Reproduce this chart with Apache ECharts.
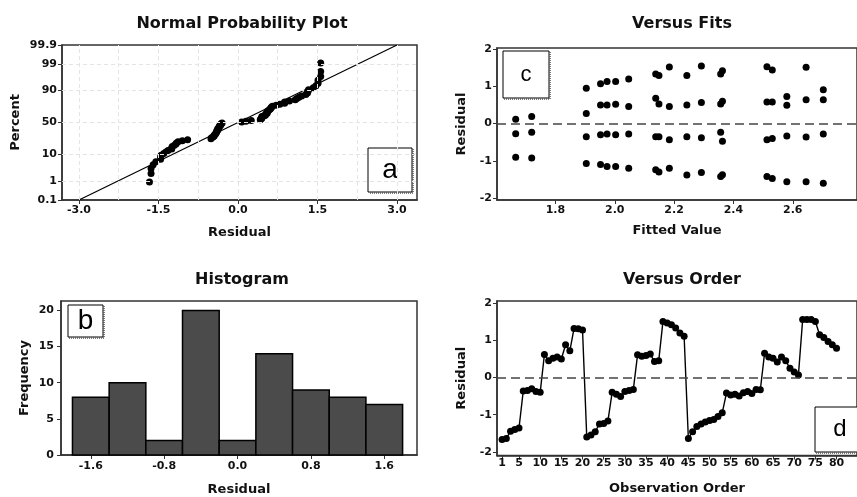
<!DOCTYPE html>
<html>
<head>
<meta charset="utf-8">
<script src="https://cdn.jsdelivr.net/npm/echarts@6/dist/echarts.min.js"></script>
<style>
html, body { margin: 0; padding: 0; background: #fff; }
#chart { width: 857px; height: 497px; }
</style>
</head>
<body>
<div id="chart"></div>
<script>
// residuals in observation order (Versus Order panel)
const residuals = [
  -1.67, -1.64, -1.45, -1.40, -1.36, -0.36, -0.35, -0.30, -0.38, -0.40,
  0.62, 0.45, 0.52, 0.55, 0.50, 0.88, 0.72, 1.32, 1.31, 1.28,
  -1.60, -1.55, -1.46, -1.25, -1.24, -1.17, -0.40, -0.45, -0.51, -0.38,
  -0.35, -0.32, 0.61, 0.57, 0.59, 0.63, 0.43, 0.45, 1.51, 1.47,
  1.42, 1.33, 1.20, 1.11, -1.64, -1.46, -1.32, -1.25, -1.20, -1.16,
  -1.13, -1.05, -0.95, -0.42, -0.47, -0.45, -0.50, -0.41, -0.38, -0.43,
  -0.32, -0.33, 0.65, 0.55, 0.52, 0.42, 0.55, 0.45, 0.25, 0.15,
  0.07, 1.56, 1.56, 1.56, 1.51, 1.15, 1.08, 0.97, 0.88, 0.79
];
const orderTicks = [1, 5, 10, 15, 20, 25, 30, 35, 40, 45, 50, 55, 60, 65, 70, 75, 80];

// Versus Fits panel: fitted value / residual pairs
const fittedValues = [
  1.666, 1.666, 1.666,
  1.720, 1.720, 1.720,
  1.904, 1.904, 1.904, 1.904,
  1.952, 1.952, 1.952, 1.952,
  1.974, 1.974, 1.974, 1.974,
  2.003, 2.003, 2.003, 2.003,
  2.047, 2.047, 2.047, 2.047,
  2.138, 2.138, 2.138, 2.138,
  2.149, 2.149, 2.149, 2.149,
  2.184, 2.184, 2.184, 2.184,
  2.243, 2.243, 2.243, 2.243,
  2.292, 2.292, 2.292, 2.292,
  2.357, 2.357, 2.357, 2.357,
  2.363, 2.363, 2.363, 2.363,
  2.513, 2.513, 2.513, 2.513,
  2.531, 2.531, 2.531, 2.531,
  2.580, 2.580, 2.580, 2.580,
  2.645, 2.645, 2.645, 2.645,
  2.703, 2.703, 2.703, 2.703
];
const fitResiduals = [
  0.12, -0.27, -0.90,
  0.19, -0.23, -0.92,
  0.95, 0.27, -0.35, -1.07,
  1.07, 0.50, -0.30, -1.10,
  1.13, 0.50, -0.28, -1.15,
  1.13, 0.52, -0.30, -1.15,
  1.20, 0.46, -0.28, -1.20,
  1.33, 0.68, -0.35, -1.24,
  1.29, 0.53, -0.35, -1.30,
  1.52, 0.46, -0.43, -1.20,
  1.29, 0.50, -0.35, -1.38,
  1.55, 0.57, -0.38, -1.31,
  1.33, 0.53, -0.23, -1.42,
  1.42, 0.60, -0.47, -1.37,
  1.53, 0.58, -0.43, -1.42,
  1.44, 0.58, -0.40, -1.47,
  0.73, 0.49, -0.33, -1.56,
  1.51, 0.64, -0.36, -1.56,
  0.91, 0.64, -0.28, -1.60
];
const fitTicks = [1.8, 2.0, 2.2, 2.4, 2.6];

// Histogram panel
const binCenters = [-1.6, -1.2, -0.8, -0.4, 0.0, 0.4, 0.8, 1.2, 1.6];
const binCounts = [8, 10, 2, 20, 2, 14, 9, 8, 7];
const binWidth = 0.4;
const histTicks = [-1.6, -0.8, 0.0, 0.8, 1.6];

// Normal probability plot panel
const probTicks = [0.1, 1, 10, 50, 90, 99, 99.9];
const probGridPct = [1, 10, 50, 90, 99];
const residTicks = [-3.0, -1.5, 0.0, 1.5, 3.0];
const residGrid = [-3.0, -2.25, -1.5, -0.75, 0.0, 0.75, 1.5, 2.25, 3.0];
const refLineResid = [-3.0, 3.0];
const refLinePct = [0.1, 99.9];

// inverse standard normal (Acklam)
function normInv(p) {
  const a = [-3.969683028665376e+01, 2.209460984245205e+02, -2.759285104469687e+02, 1.383577518672690e+02, -3.066479806614716e+01, 2.506628277459239e+00];
  const b = [-5.447609879822406e+01, 1.615858368580409e+02, -1.556989798598866e+02, 6.680131188771972e+01, -1.328068155288572e+01];
  const c = [-7.784894002430293e-03, -3.223964580411365e-01, -2.400758277161838e+00, -2.549671010332019e+00, 4.374664141464968e+00, 2.938163982698783e+00];
  const d = [7.784695709041462e-03, 3.224671290700398e-01, 2.445134137142996e+00, 3.754408661907416e+00];
  const pl = 0.02425;
  let q, r;
  if (p < pl) {
    q = Math.sqrt(-2 * Math.log(p));
    return (((((c[0] * q + c[1]) * q + c[2]) * q + c[3]) * q + c[4]) * q + c[5]) / ((((d[0] * q + d[1]) * q + d[2]) * q + d[3]) * q + 1);
  }
  if (p <= 1 - pl) {
    q = p - 0.5; r = q * q;
    return (((((a[0] * r + a[1]) * r + a[2]) * r + a[3]) * r + a[4]) * r + a[5]) * q / (((((b[0] * r + b[1]) * r + b[2]) * r + b[3]) * r + b[4]) * r + 1);
  }
  q = Math.sqrt(-2 * Math.log(1 - p));
  return -(((((c[0] * q + c[1]) * q + c[2]) * q + c[3]) * q + c[4]) * q + c[5]) / ((((d[0] * q + d[1]) * q + d[2]) * q + d[3]) * q + 1);
}

// probability plot points: sorted residuals vs median-rank percentiles
const sorted = residuals.slice().sort((x, y) => x - y);
const n = sorted.length;
const probPoints = sorted.map((v, i) => [v, normInv((i + 1 - 0.3) / (n + 0.4))]);
const zTicks = probTicks.map(p => normInv(p / 100));

const FONT = '"DejaVu Sans", sans-serif';
const TXT = '#111';
const EDGE = '#333';

function axisBase(gridIndex, opt) {
  return Object.assign({
    type: 'value',
    gridIndex: gridIndex,
    nameLocation: 'middle',
    nameTextStyle: { fontFamily: FONT, fontSize: 13, fontWeight: 'bold', color: TXT },
    axisLine: { show: true, onZero: false, lineStyle: { color: EDGE, width: 1.5 } },
    axisTick: { show: true, length: 4, lineStyle: { color: EDGE } },
    splitLine: { show: false },
    axisLabel: { fontFamily: FONT, fontSize: 11, fontWeight: 'bold', color: TXT, margin: 5, showMinLabel: true, showMaxLabel: true }
  }, opt);
}

function customTicks(values, fmt, margin) {
  return {
    axisTick: { show: true, length: 4, lineStyle: { color: EDGE }, customValues: values },
    axisLabel: { fontFamily: FONT, fontSize: 11, fontWeight: 'bold', color: TXT, margin: margin == null ? 5 : margin, customValues: values, formatter: fmt }
  };
}

function letterBox(x, y, w, h, ch, size) {
  return {
    type: 'group',
    children: [
      { type: 'rect', shape: { x: x, y: y, width: w, height: h }, style: { fill: '#fff', stroke: '#000', lineWidth: 1 } },
      { type: 'polyline', shape: { points: [[x + w + 1, y + 1], [x + w + 1, y + h + 1], [x + 1, y + h + 1]] }, style: { stroke: '#555', lineWidth: 1.5, lineDash: [1, 1], fill: null } },
      { type: 'text', style: { text: ch, x: x + w / 2, y: y + h / 2, font: size + 'px "Liberation Sans", sans-serif', fill: '#000', align: 'center', verticalAlign: 'middle' } }
    ]
  };
}

const zeroLine = {
  silent: true,
  symbol: 'none',
  label: { show: false },
  lineStyle: { color: '#444', type: [9, 5], width: 1.5 },
  data: [{ yAxis: 0 }]
};

const chart = echarts.init(document.getElementById('chart'));

chart.setOption({
  animation: false,
  backgroundColor: '#fff',
  title: [
    { text: 'Normal Probability Plot', left: 237, top: 11, textAlign: 'center' },
    { text: 'Versus Fits', left: 677, top: 11, textAlign: 'center' },
    { text: 'Histogram', left: 237, top: 267, textAlign: 'center' },
    { text: 'Versus Order', left: 677, top: 267, textAlign: 'center' }
  ].map(t => Object.assign(t, { textStyle: { fontFamily: FONT, fontSize: 16, fontWeight: 'bold', color: TXT } })),
  grid: [
    { left: 62, top: 45, width: 355, height: 155, show: true, borderColor: EDGE, borderWidth: 1.5 },
    { left: 497, top: 48, width: 375, height: 152, show: true, borderColor: EDGE, borderWidth: 1.5 },
    { left: 61, top: 301, width: 356, height: 154, show: true, borderColor: EDGE, borderWidth: 1.5 },
    { left: 497, top: 301, width: 375, height: 154.5, show: true, borderColor: EDGE, borderWidth: 1.5 }
  ],
  xAxis: [
    axisBase(0, Object.assign({ min: -3.32, max: 3.377, name: 'Residual', nameGap: 26 },
      customTicks(residTicks, v => v.toFixed(1)))),
    axisBase(1, Object.assign({ min: 1.603, max: 1.603 + 375 / 309, name: 'Fitted Value', nameGap: 24 },
      customTicks(fitTicks, v => v.toFixed(1)))),
    axisBase(2, Object.assign({ min: -1.925, max: 1.957, name: 'Residual', nameGap: 28 },
      customTicks(histTicks, v => v.toFixed(1), 6))),
    axisBase(3, Object.assign({ min: -0.2, max: -0.2 + 375 / 4.41, name: 'Observation Order', nameGap: 27 },
      customTicks(orderTicks, v => String(v), 2)))
  ],
  yAxis: [
    axisBase(0, Object.assign({ min: zTicks[0] - 0.001, max: zTicks[zTicks.length - 1] + 0.001, name: 'Percent', nameGap: 40 },
      customTicks(zTicks, v => {
        let best = 0;
        zTicks.forEach((z, i) => { if (Math.abs(z - v) < Math.abs(zTicks[best] - v)) best = i; });
        return String(probTicks[best]);
      }))),
    axisBase(1, Object.assign({ min: -2.05, max: 2.03, name: 'Residual', nameGap: 29 },
      customTicks([-2, -1, 0, 1, 2], v => String(v)))),
    axisBase(2, { min: 0, max: 21.3, interval: 5, name: 'Frequency', nameGap: 30,
      axisLabel: { fontFamily: FONT, fontSize: 11, fontWeight: 'bold', color: TXT, margin: 7, showMaxLabel: false } }),
    axisBase(3, Object.assign({ min: -2.1, max: 2.06, name: 'Residual', nameGap: 29 },
      customTicks([-2, -1, 0, 1, 2], v => String(v))))
  ],
  series: [
    {
      // faint reference grid of the probability plot
      type: 'scatter', xAxisIndex: 0, yAxisIndex: 0, data: [], z: 1,
      markLine: {
        silent: true, symbol: 'none', label: { show: false },
        lineStyle: { color: '#e4e4e4', type: [4, 3], width: 1 },
        data: residGrid.map(v => ({ xAxis: v })).concat(probGridPct.map(p => ({ yAxis: normInv(p / 100) })))
      }
    },
    {
      type: 'line', xAxisIndex: 0, yAxisIndex: 0, z: 3,
      data: refLineResid.map((v, i) => [v, normInv(refLinePct[i] / 100)]),
      symbol: 'none', lineStyle: { color: '#000', width: 1.2 }
    },
    {
      type: 'scatter', xAxisIndex: 0, yAxisIndex: 0, z: 4,
      data: probPoints, symbol: 'circle', symbolSize: 7,
      itemStyle: { color: '#000', opacity: 1 }
    },
    {
      type: 'scatter', xAxisIndex: 1, yAxisIndex: 1, z: 4,
      data: fittedValues.map((v, i) => [v, fitResiduals[i]]),
      symbol: 'circle', symbolSize: 7, itemStyle: { color: '#000', opacity: 1 },
      markLine: zeroLine
    },
    {
      type: 'custom', xAxisIndex: 2, yAxisIndex: 2,
      data: binCenters.map((c, i) => [c - binWidth / 2, c + binWidth / 2, binCounts[i]]),
      encode: { x: [0, 1], y: 2 },
      renderItem: function (params, api) {
        const p0 = api.coord([api.value(0), api.value(2)]);
        const p1 = api.coord([api.value(1), 0]);
        return {
          type: 'rect',
          shape: { x: p0[0], y: p0[1], width: p1[0] - p0[0], height: p1[1] - p0[1] },
          style: { fill: '#4b4b4b', stroke: '#000', lineWidth: 1.5 }
        };
      }
    },
    {
      type: 'line', xAxisIndex: 3, yAxisIndex: 3, z: 4,
      data: residuals.map((v, i) => [i + 1, v]),
      symbol: 'circle', symbolSize: 7, showAllSymbol: true,
      lineStyle: { color: '#000', width: 1.4 }, itemStyle: { color: '#000', opacity: 1 },
      markLine: zeroLine
    }
  ],
  graphic: [
    letterBox(368, 148, 44, 44, 'a', 28),
    letterBox(68, 305, 35, 32, 'b', 28),
    letterBox(503, 51, 46, 47, 'c', 22),
    letterBox(815, 407, 50, 45, 'd', 24)
  ]
});
</script>
</body>
</html>
